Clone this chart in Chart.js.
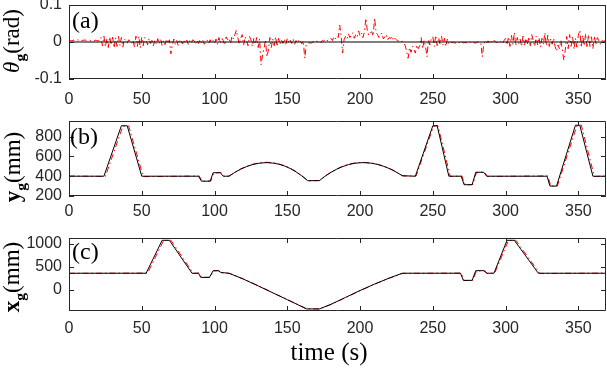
<!DOCTYPE html>
<html>
<head>
<meta charset="utf-8">
<script src="https://cdn.jsdelivr.net/npm/chart.js@4/dist/chart.umd.min.js"></script>
<style>
  body { margin: 0; background: #fff; }
  #wrap { position: relative; width: 607px; height: 369px; overflow: hidden; }
  canvas { position: absolute; left: 0; }
  .tag, .ytitle, .xtitle { position: absolute; font-family: "Liberation Serif", serif; color: #000; white-space: nowrap; line-height: 1; }
  .tag { font-size: 24px; left: 72px; }
  .ytitle { font-size: 23px; transform: translate(-50%, -50%) rotate(-90deg); }
  .ytitle sub { font-size: 0.68em; font-weight: bold; vertical-align: -0.35em; }
  .xtitle { font-size: 25px; transform: translate(-50%, -50%); left: 329px; top: 351px; }
</style>
</head>
<body>
<div id="wrap">
  <canvas id="theta" width="607" height="119" style="top:0px"></canvas>
  <canvas id="yg" width="607" height="120" style="top:116px"></canvas>
  <canvas id="xg" width="607" height="118" style="top:233px"></canvas>

  <div class="tag" style="top:8px">(a)</div>
  <div class="tag" style="top:124px;left:70px">(b)</div>
  <div class="tag" style="top:239px">(c)</div>

  <div class="ytitle" style="left:14px;top:41px"><i>θ</i><sub>g</sub>(rad)</div>
  <div class="ytitle" style="left:15px;top:167px"><b>y</b><sub>g</sub>(mm)</div>
  <div class="ytitle" style="left:14px;top:277px"><b>x</b><sub>g</sub>(mm)</div>
  <div class="xtitle">time (s)</div>
</div>

<script>
// ---- data ----
// theta_g measured (rad), one sample per second from t = 0
const thetaStep = 1;
const thetaMeas = [
  // 0-21
  0.002, 0.004, 0.003, 0.005, 0.003, 0.004, 0.006, 0.004, 0.003, 0.005, 0.004, 0.006, 0.003, 0.004, 0.005, 0.003, 0.004, 0.002, 0.005, 0.004, 0.003, 0.004,
  // 22-38
  0.012, -0.010, 0.016, -0.013, 0.009, -0.015, 0.014, -0.008, 0.013, -0.016, 0.011, -0.012, 0.015, -0.009, 0.012, -0.014, 0.008,
  // 39-52
  0.004, -0.003, 0.006, 0.002, -0.004, 0.005,
  -0.014, 0.016, -0.012, 0.015, -0.016, 0.013, -0.010, 0.012,
  // 53-71
  0.006, -0.008, 0.010, -0.004, 0.008, -0.010, 0.005, -0.006, 0.009, -0.005, 0.007, -0.009, 0.004, -0.007, 0.008, -0.004, 0.006,
  -0.032, -0.008,
  // 72-99
  0.008, -0.006, 0.004, -0.009, 0.007, 0.002, -0.005, 0.006, -0.003, 0.005, -0.007, 0.004, -0.002, 0.006, 0.003, -0.006, 0.005, -0.004, 0.007, -0.003,
  0.004, -0.006, 0.002, 0.005, -0.004, 0.006, -0.002, 0.004,
  // 100-125
  -0.004, 0.008, -0.006, 0.012, -0.003, 0.010, 0.004, -0.008, 0.014, 0.006, 0.010, -0.004, 0.016, 0.008, 0.020, 0.032, 0.012, -0.006, 0.010, 0.020,
  -0.008, 0.014, 0.004, -0.010, 0.015, 0.006,
  // 126-145
  -0.012, 0.010, -0.006, 0.012, -0.015, 0.008,
  -0.062, -0.035, -0.018, 0.006, -0.040, -0.022,
  0.012, -0.015, 0.008, -0.010, 0.014, -0.012, 0.010, -0.006,
  // 146-163
  0.006, -0.004, 0.008, -0.006, 0.010, -0.002, 0.005, -0.004, 0.008, -0.006, 0.004, -0.003, 0.007, 0.002, -0.005, 0.003,
  -0.044, -0.008,
  // 164-189
  -0.004, -0.002, -0.003, -0.002, 0.001, -0.001, 0.002, 0.001, 0.003, -0.001, 0.004, 0.002, 0.006, 0.003, 0.005, 0.008,
  0.010, 0.004, 0.014, 0.008, 0.016, 0.012,
  0.046, 0.018, -0.030, 0.006,
  // 190-211
  0.015, 0.008, 0.022, 0.012, 0.018, 0.025, 0.010, 0.020, 0.014, 0.030, 0.016, 0.024, 0.012, 0.028,
  0.064, 0.030, 0.018, 0.024, 0.028, 0.016, 0.065, 0.026,
  // 212-231
  0.020, 0.012, 0.018, 0.024, 0.008, 0.014, 0.020, 0.006, 0.012, 0.010, 0.016, 0.004, 0.010, 0.006, 0.002, 0.004, 0.001, 0.002,
  -0.003, -0.010,
  // 232-261
  -0.025, -0.044, -0.015, -0.028, -0.012, -0.020, -0.030, -0.008, -0.018, -0.010,
  0.012, -0.018, 0.004, -0.012, -0.040, 0.006, -0.008, 0.010,
  0.014, -0.012, 0.018, -0.010, 0.012, -0.006, 0.016, -0.008, 0.010, -0.012, 0.008, -0.004,
  // 262-285
  0.002, -0.002, -0.001, -0.003, -0.002, -0.004, -0.001, -0.002, 0.002, -0.003, -0.001, -0.002, -0.003, 0.001, -0.002, -0.004, -0.001, -0.003, -0.002, 0.001,
  -0.002, -0.003,
  -0.040, -0.006,
  // 286-299
  0.004, -0.002, 0.003, -0.004, 0.002, -0.003, 0.004, 0.001, -0.002, 0.003, -0.001, 0.002, -0.003, 0.004,
  // 300-333
  0.010, -0.008, 0.014, -0.012, 0.018, -0.006, 0.026, -0.010, 0.012, -0.004, 0.008, -0.012, 0.016, -0.008, 0.010, -0.006, 0.014, -0.010, 0.020, 0.004,
  -0.012, 0.016, -0.008, 0.012, -0.014, 0.010, -0.006, 0.025, -0.010, 0.018, -0.012, 0.008, -0.006, 0.010,
  // 334-341
  -0.012, -0.025, -0.008, -0.018, 0.004, -0.020,
  -0.049, -0.022,
  // 342-369
  0.015, -0.018, 0.020, -0.012, 0.016, -0.020, 0.010, -0.014, 0.018, 0.032, -0.015, 0.018, -0.010, 0.022, -0.016, 0.020, -0.012, 0.014, -0.018, 0.016,
  -0.008, 0.012, 0.004, -0.006,
  0.004, 0.002, 0.003, 0.002
];
const thetaRefTime = [0, 369];
const thetaRef = [0, 0];

// y_g (mm): reference and measured
const ygRefTime = [0, 24, 36, 40, 50, 89, 91, 97, 99, 104, 106, 110, 114, 118, 122, 126, 130, 134, 136,
  140, 144, 148, 152, 156, 160, 164, 172, 176, 180, 184, 188, 192, 196, 200, 202, 204, 208, 212, 216,
  220, 224, 229, 238, 250, 253, 261, 269.5, 271.5, 277, 279.5, 285, 287, 328.5, 330.5, 335, 348, 351, 360, 369];
const ygRef = [400, 400, 910, 910, 400, 400, 350, 350, 435, 435, 400, 400, 439, 471, 497, 517, 530, 536, 537,
  533, 522, 504, 478, 444, 403, 355, 355, 400, 439, 471, 497, 517, 530, 536, 537, 536, 531, 519, 501,
  478, 449, 405, 400, 910, 910, 400, 400, 314, 314, 440, 440, 400, 400, 300, 300, 915, 915, 400, 400];
const ygMeasTime = [0, 25, 37, 41, 51, 89.5, 91.5, 97.5, 99.5, 104.5, 106.5, 110, 114, 118, 122, 126, 130, 134, 136,
  140, 144, 148, 152, 156, 160, 164.5, 172, 176, 180, 184, 188, 192, 196, 200, 202, 204, 208, 212, 216,
  220, 224, 229.5, 238.5, 250.5, 253.5, 262, 270, 272, 277.5, 280, 285.5, 287.5, 329, 331, 335.5, 349, 352, 361, 369];
const ygMeas = [402, 398, 905, 908, 396, 402, 348, 352, 432, 438, 398, 402, 441, 474, 500, 520, 533, 540, 541,
  536, 525, 507, 482, 447, 405, 352, 357, 402, 441, 474, 500, 520, 533, 539, 540, 538, 533, 521, 503,
  480, 451, 402, 402, 905, 912, 398, 402, 312, 316, 438, 442, 398, 403, 302, 298, 910, 918, 397, 401];

// x_g (mm): reference and measured
const xgRefTime = [0, 53, 64, 69, 84.5, 89, 90.5, 96.5, 99, 102.5, 104.5, 110, 120, 130, 140, 150, 158, 163,
  172, 180, 190, 200, 210, 220, 229, 269, 271, 277, 279.5, 285, 287, 292, 301, 306, 322.5, 369];
const xgRef = [355, 355, 1070, 1070, 355, 355, 265, 265, 410, 410, 370, 355, 225, 80, -70, -220, -340, -420,
  -420, -320, -170, -20, 120, 250, 355, 355, 200, 200, 410, 410, 355, 355, 1070, 1070, 355, 355];
const xgMeasTime = [0, 54, 65, 70, 85.5, 89.5, 91, 97, 99.5, 103, 105, 110, 120, 130, 140, 150, 158, 163.5,
  172, 180, 190, 200, 210, 220, 229.5, 269.5, 271.5, 277.5, 280, 285.5, 287.5, 292.5, 302, 307, 323.5, 369];
const xgMeas = [352, 358, 1065, 1072, 350, 358, 262, 268, 405, 414, 366, 352, 230, 84, -66, -215, -336, -416,
  -422, -324, -175, -24, 116, 246, 352, 358, 196, 204, 406, 414, 350, 358, 1065, 1072, 350, 357];

// tick labels
const timeTicks = [0, 50, 100, 150, 200, 250, 300, 350];
const thetaTicks = [-0.1, 0, 0.1];
const ygTicks = [200, 400, 600, 800];
const xgTicks = [0, 500, 1000];

// ---- helpers ----
const pairs = (xs, ys) => ys.map((y, i) => ({ x: xs[i], y: y }));

const tickFont = { family: 'Liberation Sans, Arial, sans-serif', size: 16 };
const axisColor = '#262626';

// box round the plot area with MATLAB-style inward ticks
const framePlugin = {
  id: 'frame',
  afterDraw(chart) {
    const { ctx, chartArea: a, scales } = chart;
    ctx.save();
    ctx.strokeStyle = axisColor;
    ctx.lineWidth = 1;
    ctx.beginPath();
    ctx.rect(a.left + 0.5, a.top + 0.5, a.right - a.left - 1, a.bottom - a.top - 1);
    scales.x.ticks.forEach(t => {
      const px = Math.round(scales.x.getPixelForValue(t.value)) + 0.5;
      ctx.moveTo(px, a.bottom); ctx.lineTo(px, a.bottom - 5);
      ctx.moveTo(px, a.top); ctx.lineTo(px, a.top + 5);
    });
    scales.y.ticks.forEach(t => {
      const py = Math.round(scales.y.getPixelForValue(t.value)) + 0.5;
      ctx.moveTo(a.left, py); ctx.lineTo(a.left + 5, py);
      ctx.moveTo(a.right, py); ctx.lineTo(a.right - 5, py);
    });
    ctx.stroke();
    ctx.restore();
  }
};

const makePanel = (id, datasets, yMin, yMax, yTicks, xPad) => new Chart(document.getElementById(id), {
  type: 'line',
  data: { datasets: datasets },
  options: {
    responsive: false,
    devicePixelRatio: 1,
    animation: false,
    events: [],
    layout: { padding: { top: 5, right: 1, left: 0, bottom: 0 } },
    plugins: { legend: { display: false }, tooltip: { enabled: false } },
    elements: { point: { radius: 0 }, line: { tension: 0 } },
    scales: {
      x: {
        type: 'linear', min: 0, max: 369,
        grid: { display: false, drawTicks: false, tickLength: 0 }, border: { display: false },
        afterBuildTicks: s => { s.ticks = timeTicks.map(v => ({ value: v })); },
        afterFit: s => { s.height = 40; s.paddingLeft = 0; s.paddingRight = 0; },
        ticks: { font: tickFont, color: axisColor, padding: xPad, maxRotation: 0 }
      },
      y: {
        min: yMin, max: yMax,
        grid: { display: false, drawTicks: false, tickLength: 0 }, border: { display: false },
        afterBuildTicks: s => { s.ticks = yTicks.map(v => ({ value: v })); },
        afterFit: s => { s.width = 69; s.paddingTop = 0; s.paddingBottom = 0; },
        ticks: { font: tickFont, color: axisColor, padding: 7, callback: v => String(v) }
      }
    }
  },
  plugins: [framePlugin]
});

// black = reference, red dash-dot = measured
const refStyle = { borderColor: '#000000', borderWidth: 1, order: 0 };
const measStyle = { borderColor: '#ff0000', borderWidth: 1, borderDash: [6, 3, 1.5, 3], order: 1 };

const theta = makePanel('theta', [
  { ...refStyle, data: pairs(thetaRefTime, thetaRef) },
  { ...measStyle, data: thetaMeas.map((v, i) => ({ x: i * thetaStep, y: v })) }
], -0.1, 0.1, thetaTicks, 11);

const yg = makePanel('yg', [
  { ...refStyle, data: pairs(ygRefTime, ygRef) },
  { ...measStyle, data: pairs(ygMeasTime, ygMeas) }
], 200, 958, ygTicks, 6);

const xg = makePanel('xg', [
  { ...refStyle, data: pairs(xgRefTime, xgRef) },
  { ...measStyle, data: pairs(xgMeasTime, xgMeas) }
], -465, 1120, xgTicks, 8);
</script>
</body>
</html>
